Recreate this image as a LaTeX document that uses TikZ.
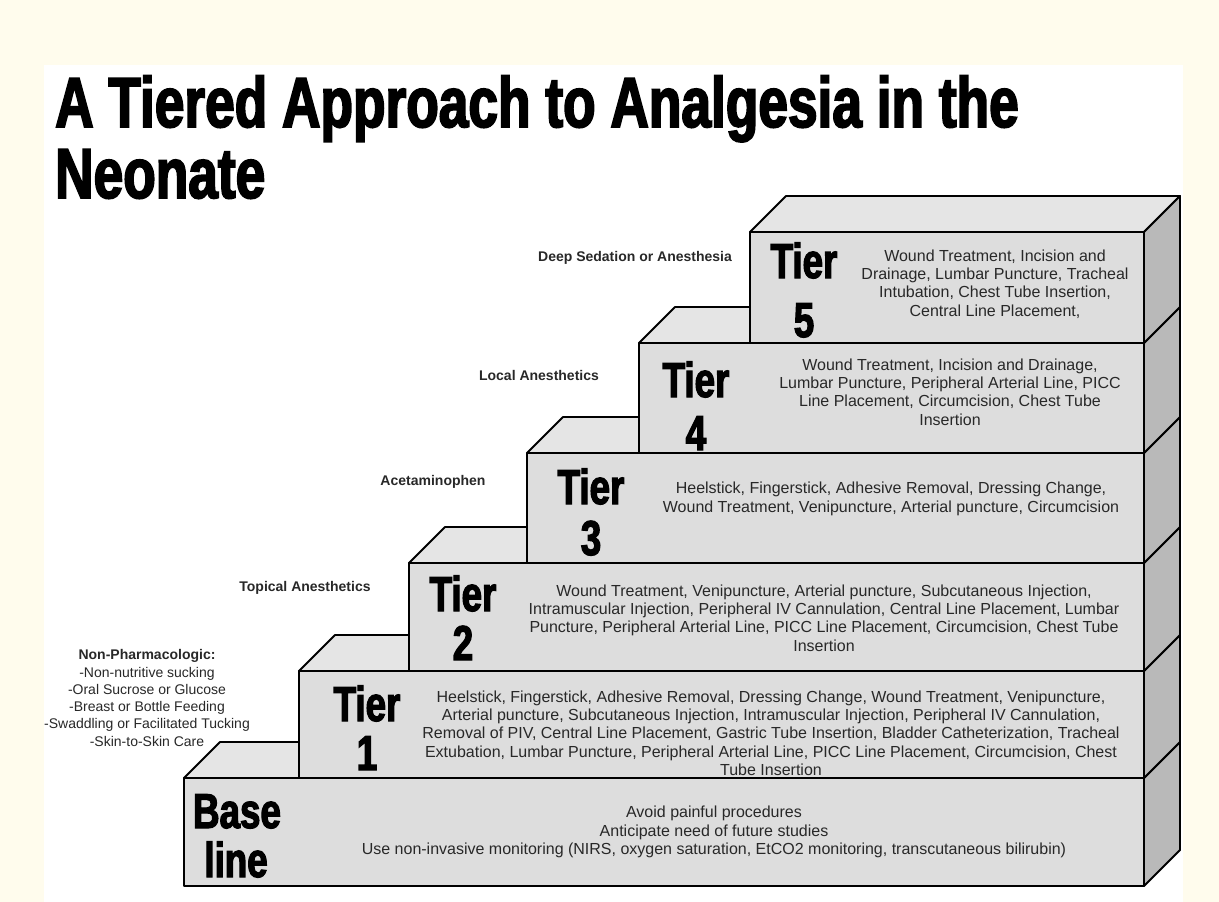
\documentclass[tikz,border=0pt]{standalone}
\usepackage{fontspec}
\setmainfont{Liberation Sans}
\newfontfamily\heavy[FakeStretch=0.75,FakeBold=2.5]{Liberation Sans Bold}
\definecolor{cream}{RGB}{255,252,237}
\definecolor{frontgray}{RGB}{221,221,221}
\definecolor{topgray}{RGB}{229,229,229}
\definecolor{sidegray}{RGB}{185,185,185}
\definecolor{txtgray}{RGB}{40,40,40}
\newcommand\stepblock[3]{%
  \filldraw[blockline,fill=topgray] (#1,#2) -- ++(36,-36) -- (1180,{#2-36}) -- (1144,#2) -- cycle;
  \filldraw[blockline,fill=sidegray] (1144,#2) -- (1180,{#2-36}) -- (1180,{#3-36}) -- (1144,#3) -- cycle;
  \filldraw[blockline,fill=frontgray] (#1,#2) rectangle (1144,#3);
}
\begin{document}
\begin{tikzpicture}[x=1pt,y=-1pt,
  blockline/.style={draw=black,line width=1.9pt,line join=round},
  desc/.style={align=center,inner sep=0pt,text=txtgray,font=\fontsize{16}{18.3}\selectfont},
  sidelbl/.style={align=center,inner sep=0pt,text=txtgray,font=\bfseries\fontsize{14}{17}\selectfont},
  nonpharm/.style={align=center,inner sep=0pt,text=txtgray,font=\fontsize{14}{17.3}\selectfont},
  tierlbl/.style={anchor=base,inner sep=0pt,font=\heavy\fontsize{49}{49}\selectfont},
  titlelbl/.style={anchor=base west,inner sep=0pt,font=\heavy\fontsize{71}{71}\selectfont}]
\useasboundingbox (0,0) rectangle (1219,902);
\fill[cream] (0,0) rectangle (1219,902);
\fill[white] (44,65) rectangle (1183,902);

\node[titlelbl] (title1) at (55,127) {A Tiered Approach to Analgesia in the};
\node[titlelbl] (title2) at (55,198) {Neonate};

\stepblock{184}{778}{886}
\stepblock{299}{671}{778}
\stepblock{409}{563}{671}
\stepblock{527}{453}{563}
\stepblock{639}{343}{453}
\stepblock{750}{232}{343}

\node[tierlbl] (t5a) at (804,278) {Tier};
\node[tierlbl] (t5b) at (804,337) {5};
\node[tierlbl] (t4a) at (696,397) {Tier};
\node[tierlbl] (t4b) at (696,450) {4};
\node[tierlbl] (t3a) at (591,504) {Tier};
\node[tierlbl] (t3b) at (591,555) {3};
\node[tierlbl] (t2a) at (463,611) {Tier};
\node[tierlbl] (t2b) at (463,660) {2};
\node[tierlbl] (t1a) at (367,721) {Tier};
\node[tierlbl] (t1b) at (367,770) {1};
\node[tierlbl] (b0a) at (237,828) {Base};
\node[tierlbl] (b0b) at (236,877) {line};

\node[desc] (d5) at (995,284) {Wound Treatment, Incision and\\Drainage, Lumbar Puncture, Tracheal\\Intubation, Chest Tube Insertion,\\Central Line Placement,};
\node[desc] (d4) at (950,392) {Wound Treatment, Incision and Drainage,\\Lumbar Puncture, Peripheral Arterial Line, PICC\\Line Placement, Circumcision, Chest Tube\\Insertion};
\node[desc] (d3) at (891,499) {Heelstick, Fingerstick, Adhesive Removal, Dressing Change,\\Wound Treatment, Venipuncture, Arterial puncture, Circumcision};
\node[desc] (d2) at (824,618) {Wound Treatment, Venipuncture, Arterial puncture, Subcutaneous Injection,\\Intramuscular Injection, Peripheral IV Cannulation, Central Line Placement, Lumbar\\Puncture, Peripheral Arterial Line, PICC Line Placement, Circumcision, Chest Tube\\Insertion};
\node[desc] (d1) at (771,733) {Heelstick, Fingerstick, Adhesive Removal, Dressing Change, Wound Treatment, Venipuncture,\\Arterial puncture, Subcutaneous Injection, Intramuscular Injection, Peripheral IV Cannulation,\\Removal of PIV, Central Line Placement, Gastric Tube Insertion, Bladder Catheterization, Tracheal\\Extubation, Lumbar Puncture, Peripheral Arterial Line, PICC Line Placement, Circumcision, Chest\\Tube Insertion};
\node[desc] (d0) at (714,832) {Avoid painful procedures\\Anticipate need of future studies\\Use non-invasive monitoring (NIRS, oxygen saturation, EtCO2 monitoring, transcutaneous bilirubin)};

\node[sidelbl] (s5) at (635,258) {Deep Sedation or Anesthesia};
\node[sidelbl] (s4) at (539,375) {Local Anesthetics};
\node[sidelbl] (s3) at (433,482) {Acetaminophen};
\node[sidelbl] (s2) at (305,588) {Topical Anesthetics};
\node[nonpharm] (s1) at (147,698) {\textbf{Non-Pharmacologic:}\\-Non-nutritive sucking\\-Oral Sucrose or Glucose\\-Breast or Bottle Feeding\\-Swaddling or Facilitated Tucking\\-Skin-to-Skin Care};
\end{tikzpicture}
\end{document}
